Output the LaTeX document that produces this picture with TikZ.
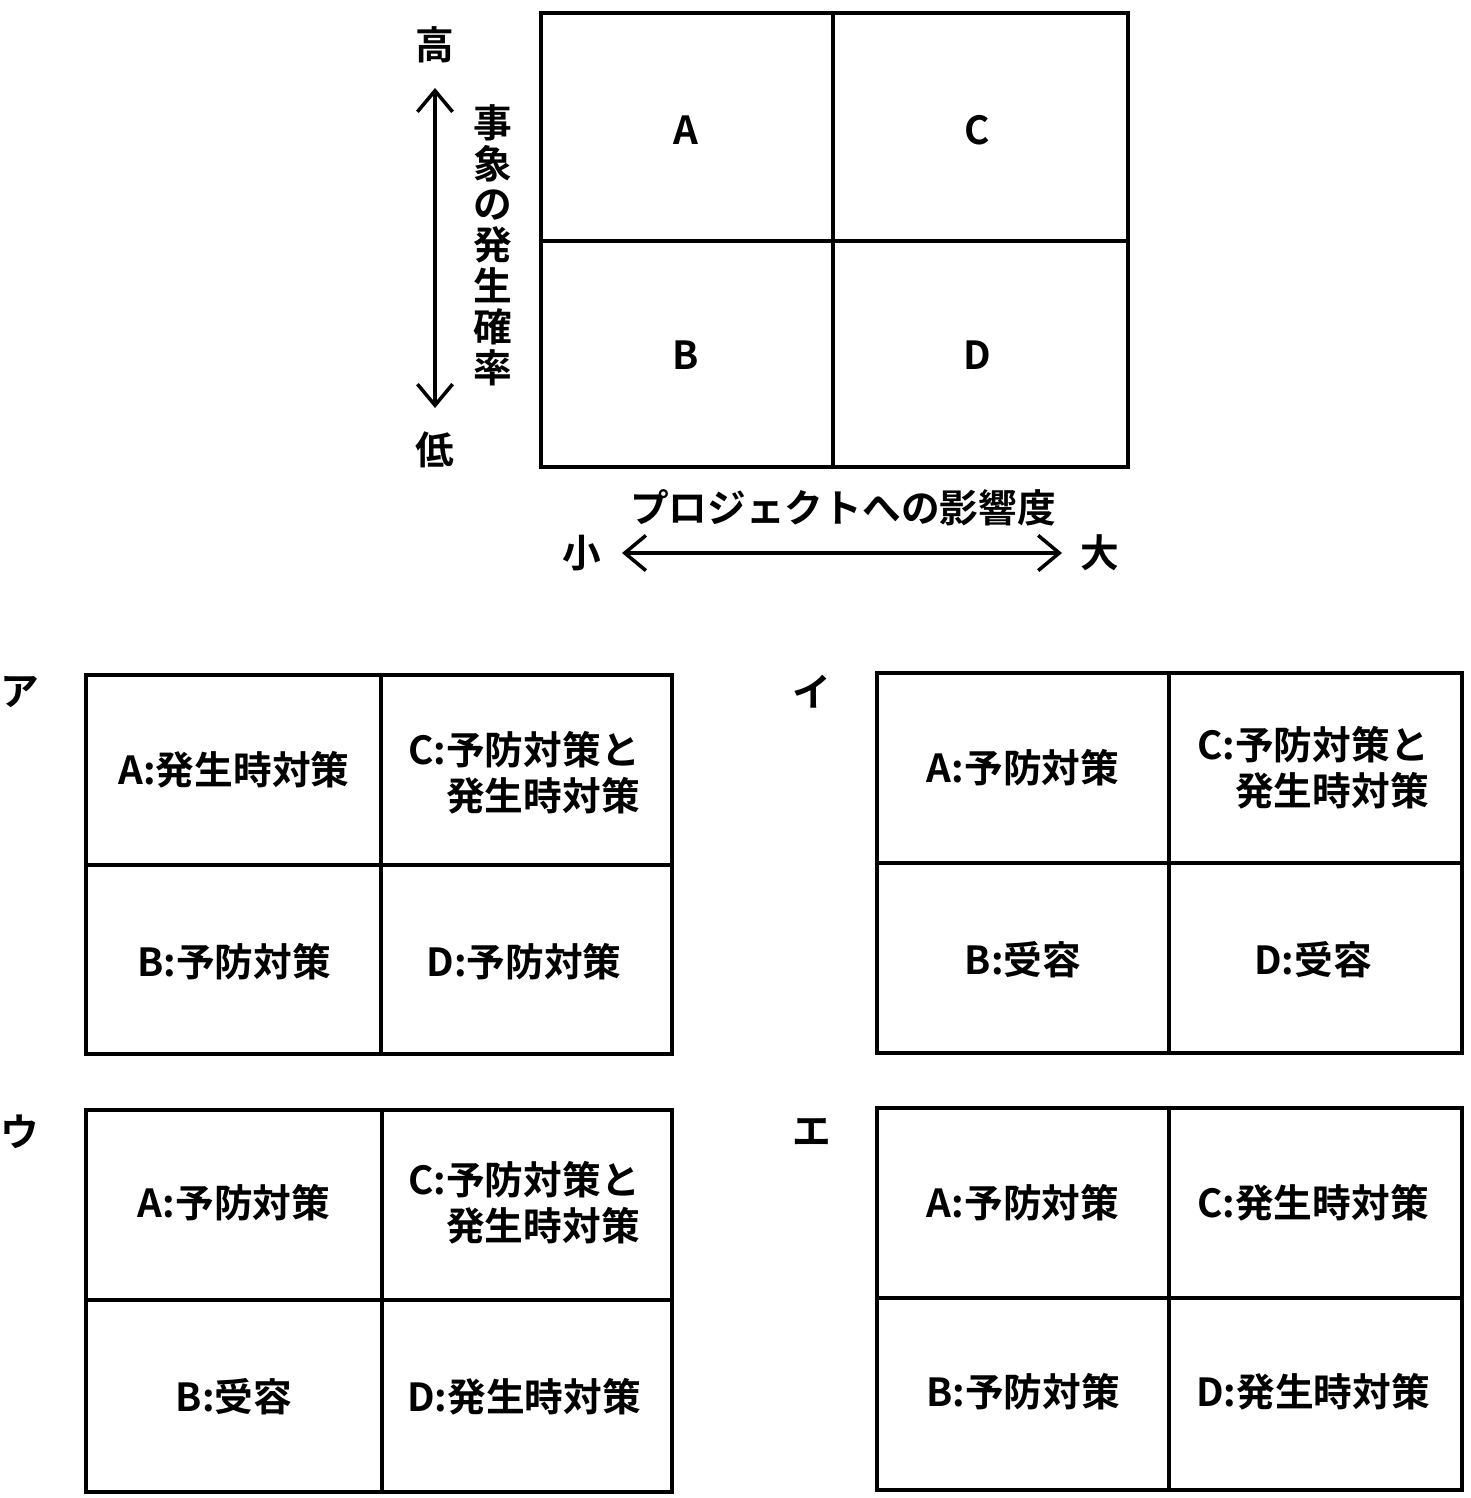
\documentclass[tikz,border=0pt]{standalone}
\usepackage{fontspec}
\setmainfont{Noto Sans CJK JP}[BoldFont={* Bold}]
\usetikzlibrary{arrows.meta}
\tikzset{box/.style={draw,line width=1pt},
 lab/.style={font=\fontsize{11pt}{13pt}\selectfont\bfseries,inner sep=0pt,align=right},
 arr/.style={line width=1pt,{Straight Barb[length=6pt,width=10pt]}-{Straight Barb[length=6pt,width=10pt]}}}
\newcommand{\panel}[9]{%
 \draw[box] (#1,#2) rectangle (#3,#4);
 \draw[box] (#5,#2) -- (#5,#4);
 \draw[box] (#1,#6) -- (#3,#6);
}
\begin{document}
\begin{tikzpicture}[x=0.01cm,y=-0.01cm]
\useasboundingbox (0,0) rectangle (1470,1498);
% top grid
\draw[box] (541,13) rectangle (1128,467);
\draw[box] (833,13) -- (833,467);
\draw[box] (541,241) -- (1128,241);
\node[lab] (nA) at (686,130) {A};
\node[lab] (nC) at (977,130) {C};
\node[lab] (nB) at (686,355) {B};
\node[lab] (nD) at (977,355) {D};
\node[lab] (hi) at (435,45) {高};
\node[lab] (lo) at (435,450) {低};
\coordinate (v1) at (435,88); \coordinate (v2) at (435,408);
\draw[arr] (v1) -- (v2);
\node[lab,align=center,font=\fontsize{11pt}{11.6pt}\selectfont\bfseries] (vt) at (493,245) {事\\象\\の\\発\\生\\確\\率};
\node[lab] (xt) at (843,508) {プロジェクトへの影響度};
\node[lab] (sm) at (582,553) {小};
\node[lab] (bg) at (1100,553) {大};
\coordinate (h1) at (622,553); \coordinate (h2) at (1062,553);
\draw[arr] (h1) -- (h2);
% ア
\panel{86}{675}{672}{1054}{381}{865}{}{}{}
\node[lab] (la) at (20,692) {ア};
\node[lab] (a1) at (234,770) {A:発生時対策};
\node[lab] (a2) at (524,773) {C:予防対策と\\発生時対策};
\node[lab] (a3) at (234,962) {B:予防対策};
\node[lab] (a4) at (524,962) {D:予防対策};
% イ
\panel{877}{673}{1462}{1053}{1169}{863}{}{}{}
\node[lab] (li) at (812,692) {イ};
\node[lab] (i1) at (1023,768) {A:予防対策};
\node[lab] (i2) at (1313,768) {C:予防対策と\\発生時対策};
\node[lab] (i3) at (1023,960) {B:受容};
\node[lab] (i4) at (1313,960) {D:受容};
% ウ
\panel{86}{1110}{672}{1492}{382}{1300}{}{}{}
\node[lab] (lu) at (20,1132) {ウ};
\node[lab] (u1) at (234,1203) {A:予防対策};
\node[lab] (u2) at (524,1203) {C:予防対策と\\発生時対策};
\node[lab] (u3) at (234,1397) {B:受容};
\node[lab] (u4) at (524,1397) {D:発生時対策};
% エ
\panel{877}{1108}{1462}{1490}{1169}{1298}{}{}{}
\node[lab] (le) at (812,1132) {エ};
\node[lab] (e1) at (1023,1203) {A:予防対策};
\node[lab] (e2) at (1313,1203) {C:発生時対策};
\node[lab] (e3) at (1023,1392) {B:予防対策};
\node[lab] (e4) at (1313,1392) {D:発生時対策};
\end{tikzpicture}
\end{document}
